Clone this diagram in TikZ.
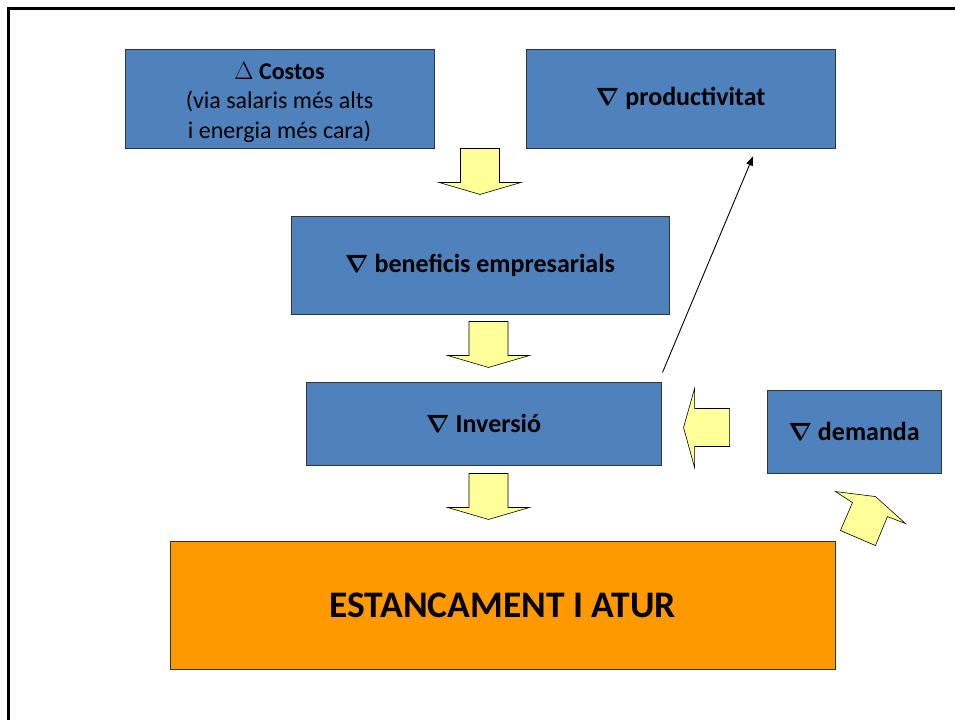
\documentclass[tikz,border=0pt]{standalone}
\usepackage{fontspec}
\setmainfont{Carlito}
\usepackage{bm}
\usetikzlibrary{arrows.meta, positioning, calc}
\definecolor{boxblue}{RGB}{79,129,189}
\definecolor{boxorange}{RGB}{255,153,0}
\definecolor{arryellow}{RGB}{255,255,153}
\tikzset{
  blockdown/.pic={
    \draw[yarrow] (-19.5,0) -- (19.5,0) -- (19.5,34) -- (41,34) -- (0,46)
      -- (-41,34) -- (-19.5,34) -- cycle;
  }
}

\begin{document}
\begin{tikzpicture}[x=1pt, y=-1pt,
    bluebox/.style={draw=black!80, fill=boxblue, line width=0.9pt, align=center,
      font=\fontsize{26}{31}\selectfont\bfseries},
    endbox/.style={draw=black!80, fill=boxorange, line width=0.9pt,
      minimum width=665pt, minimum height=128pt,
      font=\fontsize{37.5}{42}\selectfont\bfseries},
    yarrow/.style={draw=black, fill=arryellow, line width=0.6pt, line join=miter},
    thinarrow/.style={-{Triangle[length=9pt,width=7pt]}, line width=0.9pt, color=black}
]
        \useasboundingbox (0,0) rectangle (955,720);
        % marc
        \draw[line width=2.5pt] (955,8.5) -- (8.5,8.5) -- (8.5,720);

        \node[bluebox, minimum width=309pt, minimum height=99pt, name=costos] at(279.5,98.5) {};
        \node[align=center, font=\fontsize{24}{29.5}\selectfont, name=costostxt]
          at ($(costos.center)+(0,4)$)
          {$\Delta$ \textbf{Costos}\\(via salaris més alts\\i energia més cara)};
        \node[bluebox, minimum width=309pt, minimum height=99pt, name=prod] at(680.5,98.5)
          {$\bm{\nabla}$ productivitat};
        \node[bluebox, minimum width=378pt, minimum height=98pt, name=benef] at(480,265)
          {$\bm{\nabla}$ beneficis empresarials};
        \node[bluebox, minimum width=355pt, minimum height=83pt, name=inv] at(483.5,423.5)
          {$\bm{\nabla}$ Inversió};
        \node[bluebox, minimum width=174pt, minimum height=83pt, name=dem] at(854,431.5)
          {$\bm{\nabla}$ demanda};
        \node[endbox, name=estanc] at(502.5,605) {ESTANCAMENT I ATUR};

        \pic at (benef.north |- costos.south) {blockdown};
        \pic at ($(benef.south)+(8.5,7)$) {blockdown};
        \pic at ($(inv.south)+(5,8)$) {blockdown};

        % demanda -> inversio
        \coordinate (lft) at ($(dem.west)+(-37,-4)$);
        \draw[yarrow] (lft) ++(0,-19) -- ++(-35,0) -- ++(0,-20) -- ++(-11,39)
          -- ++(11,40) -- ++(0,-21) -- ++(35,0) -- cycle;

        % estancament -> demanda
        \coordinate (dg) at (estanc.north east);
        \draw[yarrow] ($(dg)+(0,-49)$) -- ($(dg)+(40,-44)$) -- ($(dg)+(70,-17)$)
          -- ($(dg)+(52,-24)$) -- ($(dg)+(40,5)$) -- ($(dg)+(5,-10)$)
          -- ($(dg)+(17,-38)$) -- cycle;

        \coordinate (prodtip) at ($(prod.south)+(72.5,8)$);
        \draw[thinarrow] ($(inv.north east)+(1,-9)$) -- (prodtip);
\end{tikzpicture}
\end{document}
